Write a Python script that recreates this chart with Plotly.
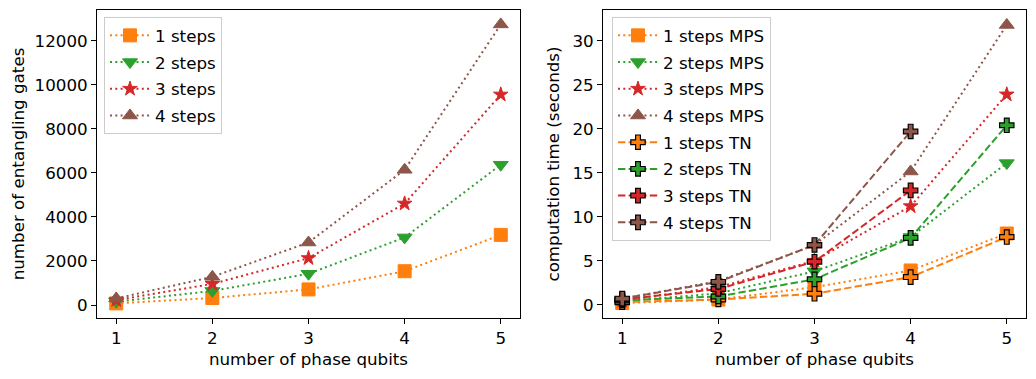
import plotly.graph_objects as go

# ---------------- data ----------------
n_qubits = [1, 2, 3, 4, 5]
n_qubits_short = [1, 2, 3, 4]
x_ticks = [1, 2, 3, 4, 5]
left_y_ticks = [0, 2000, 4000, 6000, 8000, 10000, 12000]
right_y_ticks = [0, 5, 10, 15, 20, 25, 30]

gates_1 = [75, 320, 710, 1535, 3185]
gates_2 = [150, 640, 1420, 3070, 6370]
gates_3 = [225, 960, 2130, 4605, 9555]
gates_4 = [300, 1280, 2840, 6140, 12740]

mps_1 = [0.2, 0.6, 2.0, 3.9, 8.1]
mps_2 = [0.4, 1.3, 3.8, 7.7, 16.1]
mps_3 = [0.5, 2.0, 5.0, 11.2, 23.9]
mps_4 = [0.7, 2.7, 6.8, 15.15, 31.8]

tn_1 = [0.3, 0.6, 1.25, 3.15, 7.7]
tn_2 = [0.5, 0.95, 2.9, 7.6, 20.4]
tn_3 = [0.6, 1.8, 4.9, 13.0]
tn_4 = [0.7, 2.6, 6.8, 19.7]

left_labels = ["1 steps", "2 steps", "3 steps", "4 steps"]
mps_labels = ["1 steps MPS", "2 steps MPS", "3 steps MPS", "4 steps MPS"]
tn_labels = ["1 steps TN", "2 steps TN", "3 steps TN", "4 steps TN"]

colors = ["#ff7f0e", "#2ca02c", "#d62728", "#8c564b"]
symbols = ["square", "triangle-down", "star", "triangle-up"]
sizes = [13, 13, 11, 13]

DOT = "2px,3.3px"
DASH = "7.4px,3.2px"
FONT = "DejaVu Sans"
FS = 16.7

# page body has an 8px margin: figure occupies 8..1036 x 8..379
W, H = 1028, 371
OFF = 8
ML, MR, MT, MB = 97 - OFF, 10, 10 - OFF, 379 - 318
plot_w = W - ML - MR
plot_h = H - MT - MB

fig = go.Figure()

gates = [gates_1, gates_2, gates_3, gates_4]
for i in range(4):
    fig.add_trace(go.Scatter(
        x=n_qubits, y=gates[i], name=left_labels[i], mode="lines+markers",
        line=dict(color=colors[i], width=2, dash=DOT),
        marker=dict(symbol=symbols[i], size=sizes[i], color=colors[i],
                    line=dict(color=colors[i], width=1)),
        xaxis="x", yaxis="y", legend="legend", legendgroup="l%d" % i,
    ))

mps = [mps_1, mps_2, mps_3, mps_4]
for i in range(4):
    fig.add_trace(go.Scatter(
        x=n_qubits, y=mps[i], name=mps_labels[i], mode="lines+markers",
        line=dict(color=colors[i], width=2, dash=DOT),
        marker=dict(symbol=symbols[i], size=sizes[i], color=colors[i],
                    line=dict(color=colors[i], width=1)),
        xaxis="x2", yaxis="y2", legend="legend2", legendgroup="m%d" % i,
    ))

tn = [tn_1, tn_2, tn_3, tn_4]
tn_x = [n_qubits, n_qubits, n_qubits_short, n_qubits_short]
for i in range(4):
    fig.add_trace(go.Scatter(
        x=tn_x[i], y=tn[i], name=tn_labels[i], mode="lines+markers",
        line=dict(color=colors[i], width=2, dash=DASH),
        marker=dict(symbol="cross", size=12, color=colors[i],
                    line=dict(color="black", width=1.2)),
        xaxis="x2", yaxis="y2", legend="legend2", legendgroup="t%d" % i,
    ))

axis_common = dict(
    showline=True, linecolor="black", linewidth=1, mirror=True,
    ticks="outside", ticklen=5, tickwidth=1, tickcolor="black",
    showgrid=False, zeroline=False, tickformat="d",
    tickfont=dict(family=FONT, size=FS, color="black"),
)

left_end = 423 / plot_w
right_start = (603 - 97) / plot_w

legend_common = dict(
    font=dict(family=FONT, size=FS, color="black"),
    bgcolor="rgba(255,255,255,0.8)", bordercolor="#cccccc", borderwidth=1,
    xanchor="left", yanchor="top", tracegroupgap=2, itemwidth=40,
    xref="paper", yref="paper",
)

title_font = dict(family=FONT, size=FS, color="black")

fig.update_layout(
    width=W, height=H,
    margin=dict(l=ML, r=MR, t=MT, b=MB),
    paper_bgcolor="white", plot_bgcolor="white",
    font=dict(family=FONT, size=FS, color="black"),
    xaxis=dict(domain=[0, left_end], range=[0.8, 5.2], tickvals=x_ticks,
               title=dict(text="number of phase qubits", standoff=6, font=title_font),
               anchor="y", **axis_common),
    yaxis=dict(domain=[0, 1], range=[-588, 13394], tickvals=left_y_ticks,
               title=dict(text="number of entangling gates", standoff=8, font=title_font),
               anchor="x", **axis_common),
    xaxis2=dict(domain=[right_start, 1], range=[0.8, 5.2], tickvals=x_ticks,
                title=dict(text="number of phase qubits", standoff=6, font=title_font),
                anchor="y2", **axis_common),
    yaxis2=dict(domain=[0, 1], range=[-1.5, 33.5], tickvals=right_y_ticks,
                title=dict(text="computation time (seconds)", standoff=8, font=title_font),
                anchor="x2", **axis_common),
    legend=dict(x=(104 - 97) / plot_w, y=1 - 7 / plot_h, **legend_common),
    legend2=dict(x=(612 - 97) / plot_w, y=1 - 7 / plot_h, **legend_common),
)

fig.write_html("out.html")
